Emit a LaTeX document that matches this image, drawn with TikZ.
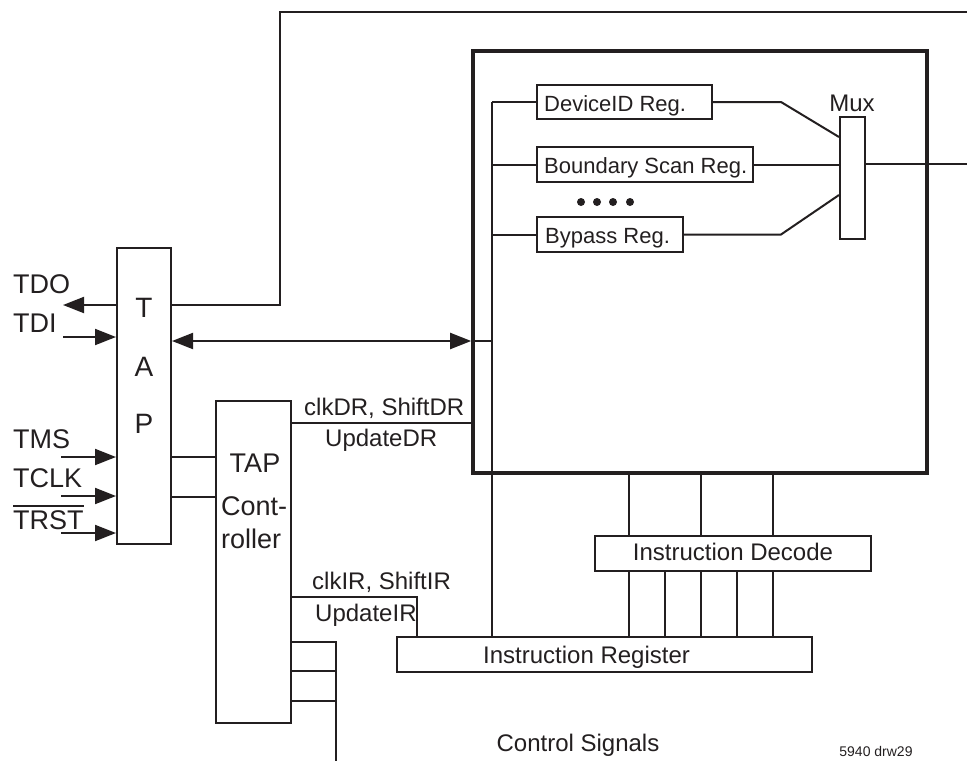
\documentclass[tikz,border=0pt]{standalone}
\usepackage{fontspec}
\setmainfont{Liberation Sans}
\usetikzlibrary{arrows.meta}
\definecolor{ink}{RGB}{35,31,32}
\begin{document}
\begin{tikzpicture}[x=1pt,y=-1pt,
  wire/.style={line width=2pt, draw=ink},
  box/.style={draw=ink, line width=2pt, inner sep=0pt, rectangle},
  bigbox/.style={draw=ink, line width=3.6pt, inner sep=0pt, rectangle},
  txt/.style={inner sep=0pt, anchor=base, text=ink},
  txtl/.style={inner sep=0pt, anchor=base west, text=ink},
  fpin/.style={font=\fontsize{27}{30}\selectfont},
  fbig/.style={font=\fontsize{28}{32}\selectfont},
  freg/.style={font=\fontsize{22}{26}\selectfont},
  fmid/.style={font=\fontsize{24}{28}\selectfont},
  fsmall/.style={font=\fontsize{14}{16}\selectfont},
  arr/.style={wire, -{Triangle[length=21pt,width=16pt]}},
  arrboth/.style={wire, {Triangle[length=21pt,width=16pt]}-{Triangle[length=21pt,width=16pt]}},
  dot/.style={circle, fill=ink, inner sep=0pt, minimum size=8pt}
]
\useasboundingbox (0,0) rectangle (967,761);

% boxes
\node[box, minimum width=54pt, minimum height=296pt] (tap) at (144,396) {};
\node[box, minimum width=75pt, minimum height=322pt] (ctrl) at (253.5,562) {};
\node[bigbox, minimum width=454pt, minimum height=422pt] (main) at (700,262) {};
\node[box, minimum width=175pt, minimum height=34pt] (devid) at (624.5,102) {};
\node[box, minimum width=216pt, minimum height=35pt] (bsr) at (645,164.5) {};
\node[box, minimum width=146pt, minimum height=35pt] (byp) at (610,234.5) {};
\node[box, minimum width=25pt, minimum height=122pt] (mux) at (852.5,178) {};
\node[box, minimum width=276pt, minimum height=35pt] (dec) at (733,553.5) {};
\node[box, minimum width=415pt, minimum height=35pt] (ir) at (604.5,654.5) {};

% texts
\node[txtl, fpin] (tdoT) at (13,293) {TDO};
\node[txtl, fpin] (tdiT) at (13,332) {TDI};
\node[txtl, fpin] (tmsT) at (13,448) {TMS};
\node[txtl, fpin] (tclkT) at (13,487) {TCLK};
\node[txtl, fpin] (trstT) at (13,529) {TRST};
\draw[wire] ([yshift=4pt]trstT.north west) -- ([yshift=4pt]trstT.north east);

\node[txt, fbig] (tapT) at (144,317) {T};
\node[txt, fbig] (tapA) at (144,376) {A};
\node[txt, fbig] (tapP) at (144,433) {P};

\node[txt, fpin] (ctrlA) at (255,472) {TAP};
\node[txtl, fpin] (ctrlB) at (221,515) {Cont-};
\node[txtl, fpin] (ctrlC) at (221,548) {roller};

\node[txtl, fmid] (clkdr) at (304,415) {clkDR, ShiftDR};
\node[txtl, fmid] (upddr) at (325,446) {UpdateDR};
\node[txtl, fmid] (clkir) at (312,589) {clkIR, ShiftIR};
\node[txtl, fmid] (updir) at (315,621) {UpdateIR};

\node[txt, fmid] (muxT) at (852,111) {Mux};
\node[txtl, freg] (devidT) at (544,111) {DeviceID Reg.};
\node[txtl, freg] (bsrT) at (544,173) {Boundary Scan Reg.};
\node[txtl, freg] (bypT) at (545,243) {Bypass Reg.};
\node[txt, fmid] (decT) at (733,560) {Instruction Decode};
\node[txtl, fmid] (irT) at (483,663) {Instruction Register};
\node[txt, fmid] (csT) at (578,751) {Control Signals};
\node[txt, fsmall] (drwT) at (876,756) {5940 drw29};

% dots
\node[dot] (d1) at (581,202) {};
\node[dot] (d2) at (597,202) {};
\node[dot] (d3) at (613,202) {};
\node[dot] (d4) at (630,202) {};

% coordinates
\coordinate (tdoEnd) at (63,305);
\coordinate (tdiStart) at (63,337);
\coordinate (tmsStart) at (61,457);
\coordinate (tclkStart) at (61,496);
\coordinate (trstStart) at (61,533);
\coordinate (corner) at (280,12);
\coordinate (topR) at (967,12);
\coordinate (busTop) at (492,102);
\coordinate (bidir) at (0,341);
\coordinate (dr) at (0,423);
\coordinate (irUp) at (417,597);
\coordinate (cs) at (336,642);
\coordinate (csEnd) at (336,761);
\coordinate (k1) at (781,102);
\coordinate (m1) at (mux.west |- 0,137);
\coordinate (k3) at (781,234.5);
\coordinate (m3) at (mux.west |- 0,195);
\coordinate (outR) at (967,164);

% pins
\draw[arr] (tdoEnd -| tap.west) -- (tdoEnd);
\draw[arr] (tdiStart) -- (tdiStart -| tap.west);
\draw[arr] (tmsStart) -- (tmsStart -| tap.west);
\draw[arr] (tclkStart) -- (tclkStart -| tap.west);
\draw[arr] (trstStart) -- (trstStart -| tap.west);

% TDO loop
\draw[wire] (tdoEnd -| tap.east) -| (corner) -- (topR);

% bidirectional
\draw[arrboth] (tap.east |- bidir) -- (main.west |- bidir);
\draw[wire] (main.west |- bidir) -- (busTop |- bidir);

% tap to controller
\draw[wire] (tap.east |- 0,457) -- (ctrl.west |- 0,457);
\draw[wire] (tap.east |- 0,497) -- (ctrl.west |- 0,497);

% clkDR
\draw[wire] (ctrl.east |- dr) -- (main.west |- dr);

% clkIR
\draw[wire] (irUp -| ctrl.east) -- (irUp) -- (irUp |- ir.north);

% control signals
\draw[wire] (cs -| ctrl.east) -- (cs) -- (csEnd);
\draw[wire] (ctrl.east |- 0,671) -- (cs |- 0,671);
\draw[wire] (ctrl.east |- 0,701) -- (cs |- 0,701);

% bus
\draw[wire] (busTop) -- (busTop |- ir.north);
\draw[wire] (busTop) -- (devid.west);
\draw[wire] (busTop |- bsr.west) -- (bsr.west);
\draw[wire] (busTop |- byp.west) -- (byp.west);

% mux
\draw[wire] (devid.east) -- (k1) -- (m1);
\draw[wire] (bsr.east) -- (mux.west |- bsr.east);
\draw[wire] (byp.east) -- (k3) -- (m3);
\draw[wire] (mux.east |- outR) -- (outR);

% decode
\foreach \xx in {629,701,773} {
  \draw[wire] (main.south -| \xx,0) -- (dec.north -| \xx,0);
}
\foreach \xx in {629,665,701,737,773} {
  \draw[wire] (dec.south -| \xx,0) -- (ir.north -| \xx,0);
}
\end{tikzpicture}
\end{document}
